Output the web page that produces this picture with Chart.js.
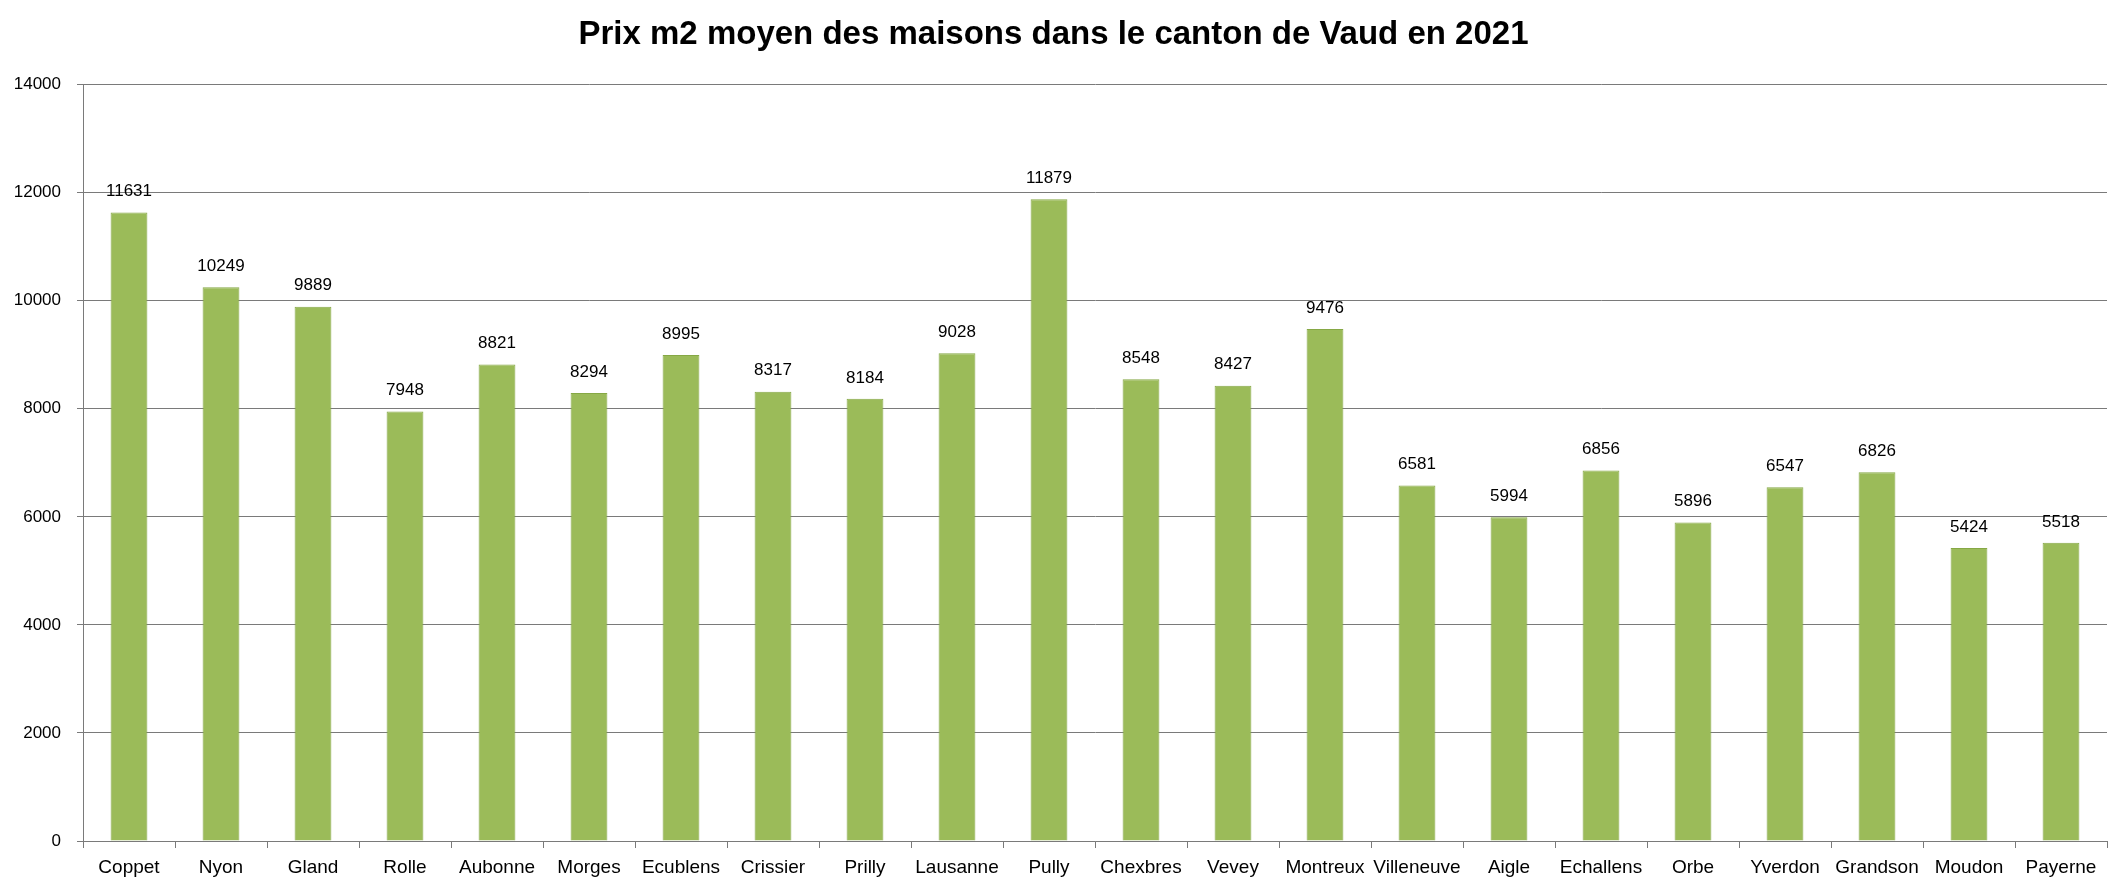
<!DOCTYPE html>
<html><head><meta charset="utf-8">
<script src="https://cdn.jsdelivr.net/npm/chart.js@4/dist/chart.umd.min.js"></script>
<style>html,body{margin:0;padding:0;background:#fff;overflow:hidden}</style>
</head><body>
<canvas id="c" width="2126" height="894"></canvas>
<script>
const titleText = "Prix m2 moyen des maisons dans le canton de Vaud en 2021";
const communes = ["Coppet","Nyon","Gland","Rolle","Aubonne","Morges","Ecublens","Crissier","Prilly","Lausanne","Pully","Chexbres","Vevey","Montreux","Villeneuve","Aigle","Echallens","Orbe","Yverdon","Grandson","Moudon","Payerne"];
const prixM2 = [11631,10249,9889,7948,8821,8294,8995,8317,8184,9028,11879,8548,8427,9476,6581,5994,6856,5896,6547,6826,5424,5518];
const yTicks = [0,2000,4000,6000,8000,10000,12000,14000];

const valueLabels = {
  id: 'valueLabels',
  afterDatasetsDraw(chart) {
    const ctx = chart.ctx;
    const meta = chart.getDatasetMeta(0);
    ctx.save();
    ctx.font = '17px "Liberation Sans", Arial, sans-serif';
    ctx.fillStyle = '#000';
    ctx.textAlign = 'center';
    ctx.textBaseline = 'middle';
    meta.data.forEach((bar, i) => {
      ctx.fillText(String(prixM2[i]), bar.x, bar.y - 21);
    });
    ctx.restore();
  }
};

new Chart(document.getElementById('c'), {
  type: 'bar',
  data: {
    labels: communes,
    datasets: [{
      data: prixM2,
      backgroundColor: '#9BBB59',
      borderColor: '#86A845',
      borderWidth: 1,
      categoryPercentage: 1,
      barPercentage: 0.4
    }]
  },
  options: {
    responsive: false,
    animation: false,
    devicePixelRatio: 1,
    layout: { padding: { left: 0, right: 19, top: 0, bottom: 0 } },
    plugins: {
      legend: { display: false },
      tooltip: { enabled: false },
      title: {
        display: true,
        text: titleText,
        color: '#000',
        font: { family: '"Liberation Sans", Arial, sans-serif', size: 33, weight: 'bold', lineHeight: 1.2 },
        padding: { top: 15, bottom: 30 }
      }
    },
    scales: {
      x: {
        offset: true,
        grid: { offset: true, drawOnChartArea: false, drawTicks: true, tickLength: 7, color: '#7a7a7a', lineWidth: 1 },
        border: { color: '#7a7a7a', width: 1 },
        ticks: { color: '#000', font: { family: '"Liberation Sans", Arial, sans-serif', size: 19 }, padding: 8, maxRotation: 0, autoSkip: false },
        afterFit(scale) { scale.height = 53; }
      },
      y: {
        min: 0, max: 14000,
        afterBuildTicks(scale) { scale.ticks = yTicks.map(v => ({ value: v })); },
        grid: { color: '#7a7a7a', lineWidth: 1, tickLength: 6 },
        border: { color: '#7a7a7a', width: 1 },
        ticks: { color: '#000', font: { family: '"Liberation Sans", Arial, sans-serif', size: 17 }, padding: 16, callback: (v) => String(v) },
        afterFit(scale) { scale.width = 83; }
      }
    }
  },
  plugins: [valueLabels]
});
</script>
</body></html>
